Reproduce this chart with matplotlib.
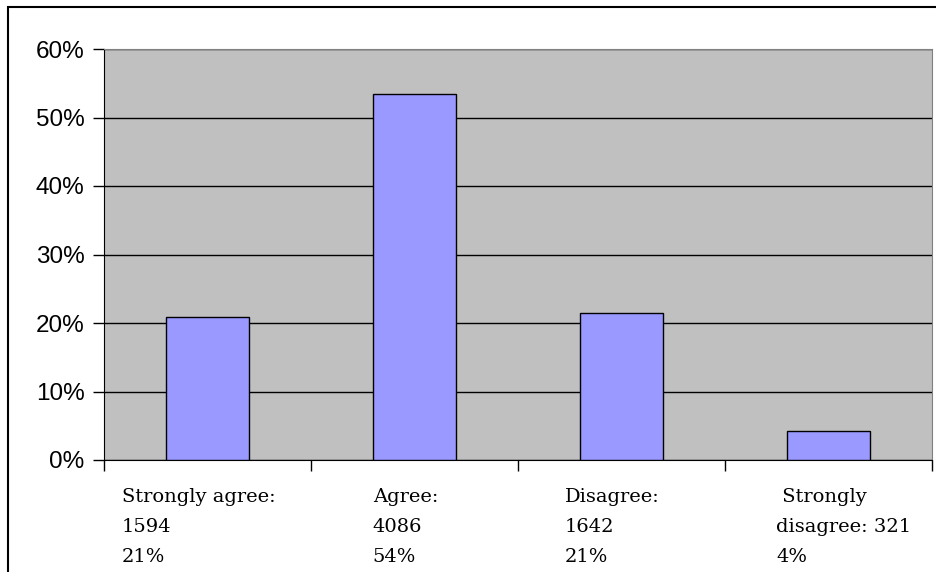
import matplotlib
matplotlib.use("Agg")
import matplotlib.pyplot as plt
from matplotlib.patches import Rectangle
from matplotlib.ticker import FixedLocator, PercentFormatter

categories = ["Strongly agree", "Agree", "Disagree", "Strongly disagree"]
counts = [1594, 4086, 1642, 321]
shares = [20.86, 53.46, 21.48, 4.20]
tick_labels = ["Strongly agree:\n1594\n21%",
               "Agree:\n4086\n54%",
               "Disagree:\n1642\n21%",
               " Strongly\ndisagree: 321\n4%"]

fig = plt.figure(figsize=(9.36, 5.72), dpi=100)
ax = fig.add_axes([104/936, 112/572, 828/936, 411/572])
ax.set_facecolor("#C0C0C0")

x = list(range(len(categories)))
ax.yaxis.grid(True, color="black", lw=1)
ax.set_axisbelow(True)
ax.bar(x, shares, width=0.4, color="#9999FF", edgecolor="black", lw=1, zorder=3)

ax.set_xlim(-0.5, len(categories) - 0.5)
ax.set_ylim(0, 60)
ax.set_yticks(range(0, 61, 10))
ax.yaxis.set_major_formatter(PercentFormatter(decimals=0))
for lab in ax.get_yticklabels():
    lab.set_family("Liberation Sans")
    lab.set_fontsize(17.5)
ax.tick_params(axis="y", direction="out", length=8, width=1, pad=6)

# category labels, wrapped the way the original sheet had them
# (last one sits a bit further right in the original)
ax.set_xticks(x)
ax.set_xticklabels([])
ax.tick_params(axis="x", which="major", length=0)
for i, txt in zip(x, tick_labels):
    dx = 11 if i == len(x) - 1 else -6.5
    ax.annotate(txt, xy=(i, 0), xycoords=("data", "axes fraction"),
                xytext=(dx, -20), textcoords="offset points",
                family="DejaVu Serif", fontsize=14, ha="center", va="top",
                multialignment="left", linespacing=1.85)
ax.xaxis.set_minor_locator(FixedLocator([i - 0.5 for i in range(len(categories) + 1)]))
ax.tick_params(axis="x", which="minor", direction="out", length=8, width=1)

for side in ["top", "right"]:
    ax.spines[side].set_color("#808080")
for side in ["left", "bottom"]:
    ax.spines[side].set_color("black")

fig.add_artist(Rectangle((8/936, -0.1), 1.2, 1.1 - 7/572, transform=fig.transFigure,
                         fill=False, edgecolor="black", lw=1.5))

fig.savefig("out.png", dpi=100)
